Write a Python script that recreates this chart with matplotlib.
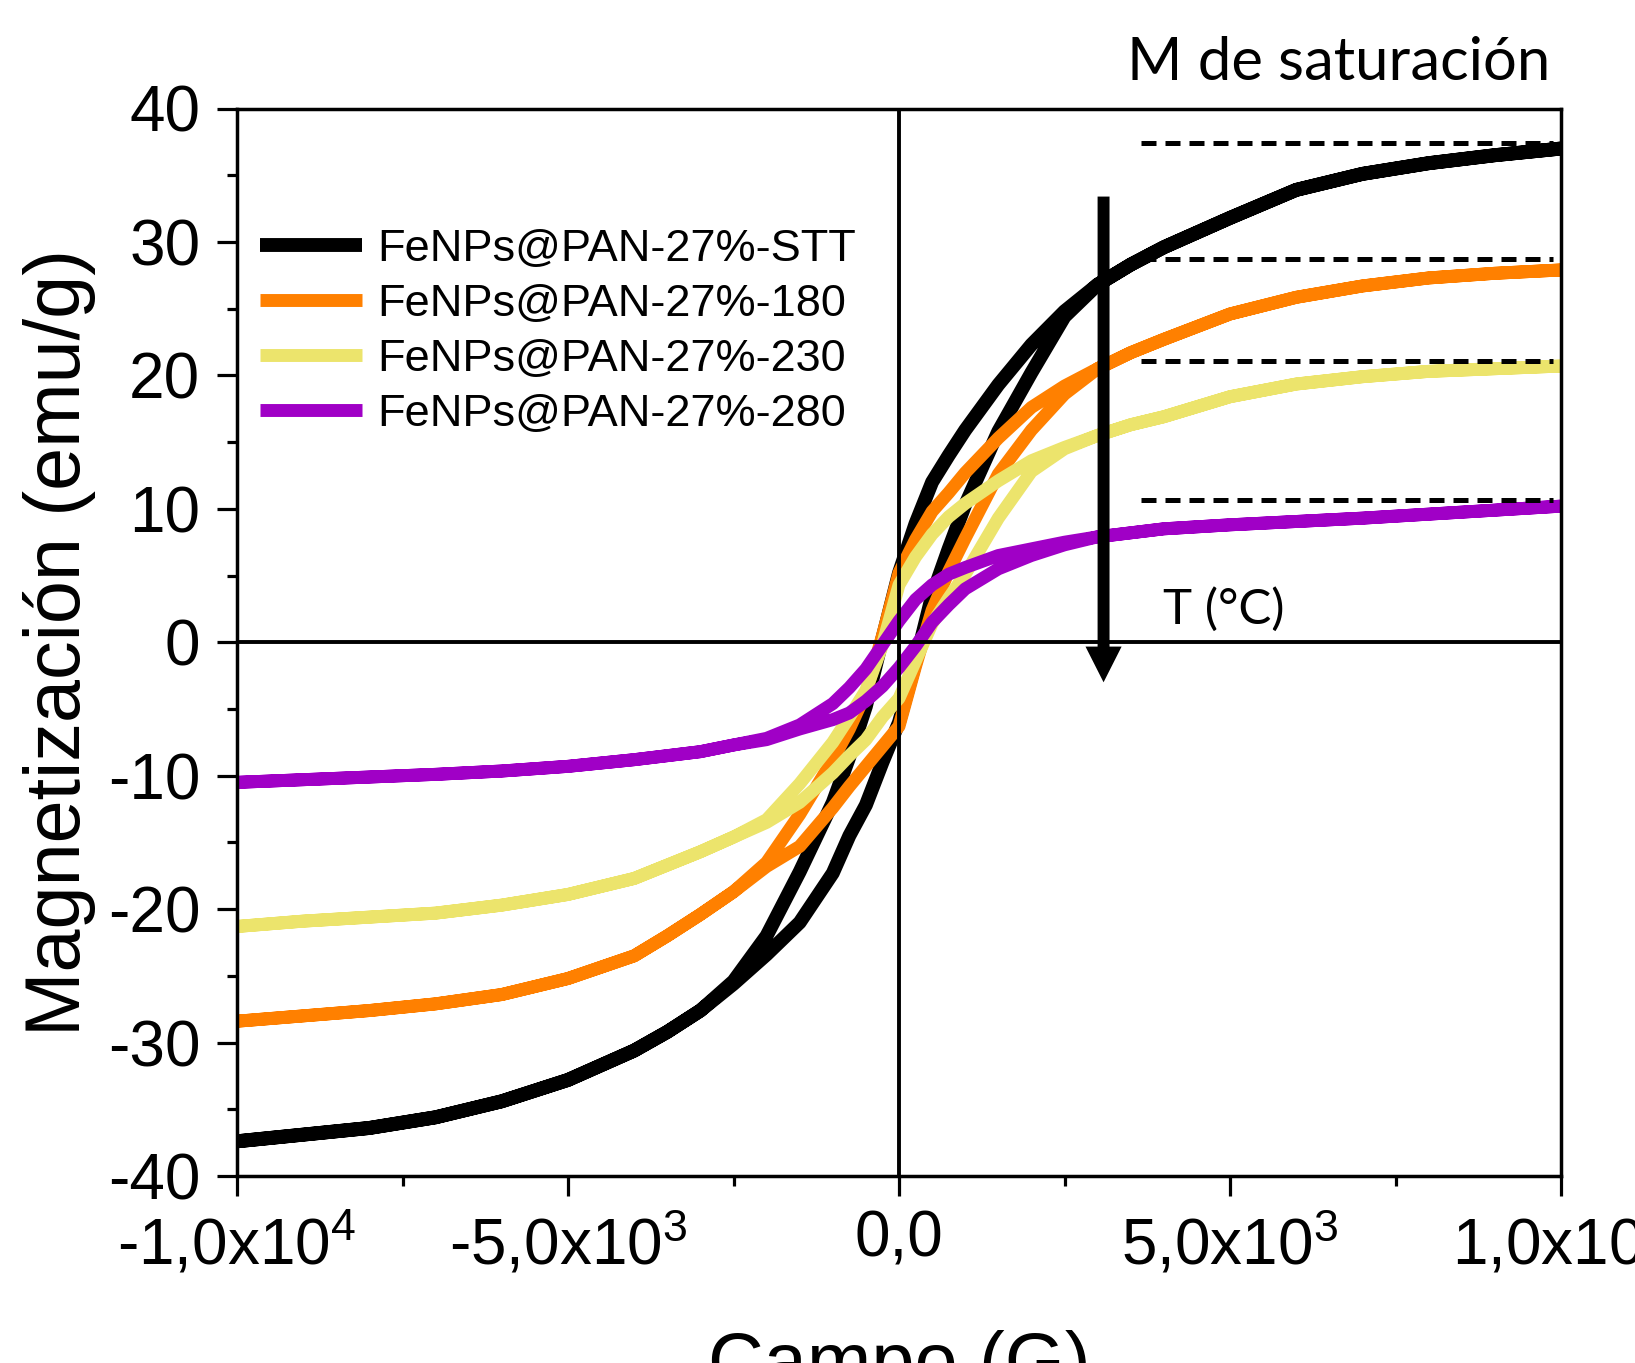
import matplotlib
matplotlib.use("Agg")
import matplotlib.pyplot as plt

plt.rcParams['font.family'] = ['Liberation Sans', 'DejaVu Sans']
plt.rcParams['mathtext.fontset'] = 'custom'
plt.rcParams['mathtext.rm'] = 'Liberation Sans'
plt.rcParams['mathtext.it'] = 'Liberation Sans'
plt.rcParams['mathtext.bf'] = 'Liberation Sans'

# ---------------- data ----------------
H = [-10000, -9000, -8000, -7000, -6000, -5000, -4000, -3500, -3000, -2500, -2000,
     -1500, -1000, -750, -500, -250, 0, 250, 500, 750, 1000,
     1500, 2000, 2500, 3000, 3500, 4000, 5000, 6000, 7000, 8000, 9000, 10000]

# descending branch (upper), ascending branch (lower), both listed by H
stt_down = [-37.4, -36.9, -36.4, -35.6, -34.4, -32.8, -30.6, -29.2, -27.6, -25.4, -22.0,
            -17.2, -12.0, -8.6, -4.8, 0.3, 5.2, 8.9, 12.0, 14.0, 15.9,
            19.3, 22.3, 24.8, 26.8, 28.3, 29.6, 31.8, 33.9, 35.1, 35.9, 36.5, 37.0]
stt_up = [-37.4, -36.9, -36.4, -35.6, -34.4, -32.8, -30.6, -29.2, -27.6, -25.6, -23.4,
          -21.0, -17.3, -14.5, -12.2, -9.0, -6.0, -1.5, 3.5, 7.0, 10.3,
          15.8, 20.2, 24.4, 26.8, 28.3, 29.6, 31.8, 33.9, 35.1, 35.9, 36.5, 37.0]

t180_down = [-28.4, -28.0, -27.6, -27.1, -26.4, -25.2, -23.5, -22.0, -20.4, -18.7, -16.5,
             -12.9, -8.8, -6.5, -3.8, 0.5, 5.2, 7.7, 9.8, 11.2, 12.7,
             15.3, 17.6, 19.2, 20.5, 21.7, 22.7, 24.6, 25.85, 26.7, 27.3, 27.65, 27.9]
t180_up = [-28.4, -28.0, -27.6, -27.1, -26.4, -25.2, -23.5, -22.0, -20.4, -18.7, -16.8,
           -15.3, -12.4, -10.8, -9.3, -7.8, -6.3, -1.8, 2.4, 5.3, 7.8,
           12.6, 15.9, 18.6, 20.5, 21.7, 22.7, 24.6, 25.85, 26.7, 27.3, 27.65, 27.9]

t230_down = [-21.3, -20.9, -20.6, -20.3, -19.7, -18.9, -17.7, -16.7, -15.7, -14.6, -13.3,
             -10.6, -7.5, -5.6, -3.6, -0.2, 4.3, 6.4, 8.1, 9.4, 10.4,
             12.1, 13.6, 14.6, 15.5, 16.3, 16.9, 18.4, 19.35, 19.9, 20.3, 20.5, 20.7]
t230_up = [-21.3, -20.9, -20.6, -20.3, -19.7, -18.9, -17.7, -16.7, -15.7, -14.6, -13.5,
           -12.0, -9.8, -8.5, -7.3, -5.6, -4.2, -1.4, 1.4, 3.3, 5.1,
           9.3, 12.8, 14.5, 15.5, 16.3, 16.9, 18.4, 19.35, 19.9, 20.3, 20.5, 20.7]

t280_down = [-10.5, -10.3, -10.1, -9.9, -9.65, -9.3, -8.8, -8.5, -8.2, -7.7, -7.2,
             -6.2, -4.6, -3.4, -2.0, -0.2, 1.6, 3.2, 4.3, 5.1, 5.6,
             6.5, 7.0, 7.5, 7.9, 8.2, 8.5, 8.8, 9.05, 9.3, 9.6, 9.9, 10.2]
t280_up = [-10.5, -10.3, -10.1, -9.9, -9.65, -9.3, -8.8, -8.5, -8.2, -7.7, -7.3,
           -6.5, -5.8, -5.3, -4.4, -3.3, -1.9, -0.3, 1.5, 2.8, 4.0,
           5.5, 6.5, 7.3, 7.9, 8.2, 8.5, 8.8, 9.05, 9.3, 9.6, 9.9, 10.2]

labels = ["FeNPs@PAN-27%-STT", "FeNPs@PAN-27%-180",
          "FeNPs@PAN-27%-230", "FeNPs@PAN-27%-280"]
colors = ["#000000", "#FF8000", "#ECE46C", "#A000C6"]
widths = [10.0, 9.3, 9.3, 9.3]

# saturation magnetisation guide lines
ms_values = [37.4, 28.7, 21.1, 10.66]
ms_h_range = [3660, 9880]

# arrow (temperature direction)
arrow_h = 3090
arrow_m = [33.4, -3.0]

x_ticks = [-10000, -5000, 0, 5000, 10000]
x_ticklabels = ['-1,0x10$^{4}$', '-5,0x10$^{3}$', '0,0', '5,0x10$^{3}$', '1,0x10$^{4}$']
y_ticks = [-40, -30, -20, -10, 0, 10, 20, 30, 40]
y_ticklabels = ['-40', '-30', '-20', '-10', '0', '10', '20', '30', '40']

# ---------------- figure ----------------
W, Hpx = 1635, 1363
fig = plt.figure(figsize=(W / 100, Hpx / 100), dpi=100)
L, R, T, B = 237, 1561, 108.5, 1176
ax = fig.add_axes([L / W, 1 - B / Hpx, (R - L) / W, (B - T) / Hpx])

series = [(stt_down, stt_up), (t180_down, t180_up),
          (t230_down, t230_up), (t280_down, t280_up)]
for (down, up), lab, col, lw in zip(series, labels, colors, widths):
    xs = H[::-1] + H
    ys = down[::-1] + up
    ax.plot(xs, ys, color=col, lw=lw, label=lab,
            solid_capstyle='butt', solid_joinstyle='round', zorder=2)

for m in ms_values:
    ax.plot(ms_h_range, [m, m], color='black', lw=3.6, dashes=(3.0, 1.8), zorder=4)

ax.axhline(0, color='black', lw=2.8, zorder=5)
ax.axvline(0, color='black', lw=2.8, zorder=5)

ax.annotate('', xy=(arrow_h, arrow_m[1]), xytext=(arrow_h, arrow_m[0]),
            arrowprops=dict(arrowstyle='simple,head_length=2.57,head_width=2.6,tail_width=0.86',
                            mutation_scale=10, color='black', lw=0,
                            shrinkA=0, shrinkB=0), zorder=6)

ax.text(3990, 1.4, 'T (°C)', ha='left', va='baseline', fontsize=35.5,
        family=['Lato', 'DejaVu Sans'], zorder=6)
fig.text(1550 / W, 1 - 80.3 / Hpx, 'M de saturación', ha='right', va='baseline',
         fontsize=43, family=['Lato', 'DejaVu Sans'])

ax.set_xlim(-10000, 10000)
ax.set_ylim(-40, 40)
ax.set_xticks(x_ticks)
ax.set_xticklabels(x_ticklabels)
ax.set_yticks(y_ticks)
ax.set_yticklabels(y_ticklabels)
ax.set_xticks([-7500, -2500, 2500, 7500], minor=True)
ax.set_yticks([-35, -25, -15, -5, 5, 15, 25, 35], minor=True)
ax.tick_params(axis='both', which='major', length=14.4, width=2.3,
               direction='out', labelsize=46, top=False, right=False)
ax.tick_params(axis='x', which='major', pad=10)
ax.tick_params(axis='y', which='major', pad=12)
ax.tick_params(axis='both', which='minor', length=7.2, width=2.3,
               direction='out', top=False, right=False)
for sp in ax.spines.values():
    sp.set_linewidth(2.5)

ax.set_ylabel('Magnetización (emu/g)', fontsize=55.7)
ax.yaxis.set_label_coords((96 - L) / (R - L), 0.5)
ax.set_xlabel('Campo (G)', fontsize=55.7)
ax.xaxis.set_label_coords(0.5, -(1330 - B) / (B - T))

leg = ax.legend(loc='upper left', bbox_to_anchor=(260 / W, 1 - 229 / Hpx),
                bbox_transform=fig.transFigure, frameon=False, fontsize=32.5,
                handlelength=2.26, handletextpad=0.33, labelspacing=0.31,
                borderpad=0, borderaxespad=0)

fig.savefig('out.png', dpi=100)
